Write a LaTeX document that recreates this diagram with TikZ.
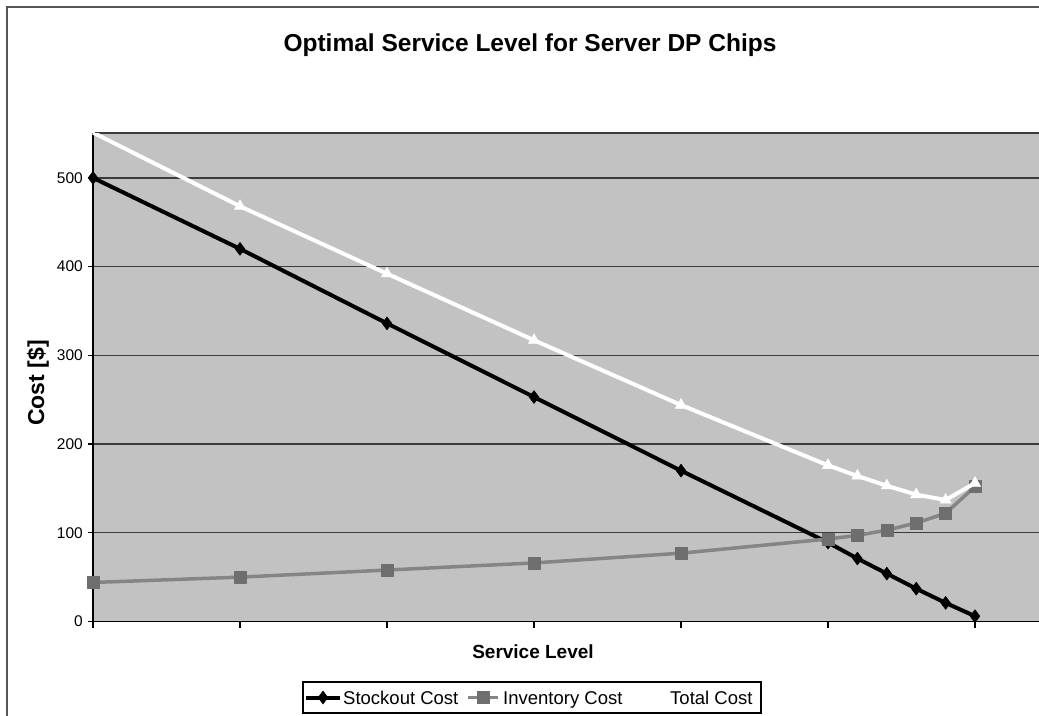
\documentclass[tikz,border=0pt]{standalone}
\usepackage{fontspec}
\setmainfont{Liberation Sans}
\usetikzlibrary{plotmarks}
\definecolor{plotbg}{HTML}{C2C2C2}
\definecolor{gridc}{HTML}{3C3C3C}
\definecolor{invline}{HTML}{858585}
\definecolor{invmark}{HTML}{6E6E6E}
\definecolor{framec}{HTML}{555555}
\tikzset{
  stockline/.style={line width=4pt, black, line join=round, mark=diamond*, mark size=6.5pt, mark options={solid, fill=black, draw=black, line width=0.5pt}},
  invseries/.style={line width=3.5pt, invline, line join=round, mark=square*, mark size=6pt, mark options={solid, fill=invmark, draw=invmark, line width=0.5pt}},
  totline/.style={line width=4pt, white, line join=round},
  totmarks/.style={mark=triangle*, mark size=6.5pt, mark options={fill=white, draw=white, line width=0.5pt}},
  ticklab/.style={anchor=east, inner sep=0pt, font=\fontsize{15.5}{18}\selectfont},
  legtext/.style={anchor=base west, inner sep=0pt, font=\fontsize{18.5}{22}\selectfont},
  gridline/.style={gridc, line width=1.3pt}
}
\begin{document}
\begin{tikzpicture}[x=1pt, y=-1pt]
\useasboundingbox (0,0) rectangle (1039,715);
\fill[white] (0,0) rectangle (1039,715);
% outer chart frame
\draw[framec, line width=1.5pt] (7,720) -- (7,7) -- (1045,7);
% title
\node[font=\bfseries\fontsize{24.5}{28}\selectfont, inner sep=0pt] (title) at (530,45) {Optimal Service Level for Server DP Chips};
% plot area
\fill[plotbg] (93,133) rectangle (1045,621);
\draw[gridc, line width=1.3pt] (95,133) -- (1045,133);
\begin{scope}[xshift=93pt, yshift=-621.5pt, x=147pt, y=0.8873pt]
  % horizontal gridlines and y ticks
  \foreach \v in {100,200,300,400,500} {
    \draw[gridline] (0,\v) -- (6.5,\v);
  }
  \foreach \v in {0,100,200,300,400,500} {
    \draw[black, line width=1.2pt] (-5pt,\v) -- (0,\v);
    \node[ticklab] (yl\v) at (-10pt,\v) {\v};
  }
  % axes
  \draw[black, line width=1.5pt] (0,550) -- (0,0) -- (6.5,0);
  \foreach \i in {0,...,6} {
    \draw[black, line width=1.2pt] (\i,0) -- ++(0,-6pt);
  }
  % stockout cost
  \draw[stockline] plot coordinates {(0,500) (1,420) (2,336) (3,253) (4,170) (5,89) (5.2,71) (5.4,54) (5.6,37) (5.8,21) (6,6)};
  % inventory cost
  \draw[invseries] plot coordinates {(0,44) (1,50) (2,58) (3,66) (4,77) (5,93) (5.2,97) (5.4,103) (5.6,111) (5.8,122) (6,152)};
  % total cost, clipped at the top of the plot area
  \begin{scope}
    \clip (-0.02,0) rectangle (6.5,550);
    \draw[totline] plot coordinates {(0,551) (1,468) (2,392) (3,317) (4,244) (5,176) (5.2,164) (5.4,153) (5.6,143) (5.8,137) (6,156)};
  \end{scope}
  \path[totmarks] plot coordinates {(1,468) (2,392) (3,317) (4,244) (5,176) (5.2,164) (5.4,153) (5.6,143) (5.8,137) (6,156)};
\end{scope}
% axis titles
\node[font=\bfseries\fontsize{23}{26}\selectfont, rotate=90, inner sep=0pt] (ytitle) at (38,383) {Cost [\$]};
\node[font=\bfseries\fontsize{19}{22}\selectfont, inner sep=0pt] (xtitle) at (533,652) {Service Level};
% legend
\draw[black, line width=1.2pt, fill=white] (303,682) rectangle (761,713);
\draw[stockline, mark=none] (306,697.5) -- (340,697.5);
\path[stockline] plot coordinates {(323,697.5)};
\node[legtext] (l1) at (343,704.5) {Stockout Cost};
\draw[invseries, mark=none] (468,697.5) -- (498,697.5);
\path[invseries] plot coordinates {(483,697.5)};
\node[legtext] (l2) at (503,704.5) {Inventory Cost};
\draw[totline] (636,697.5) -- (666,697.5);
\node[legtext] (l3) at (670,704.5) {Total Cost};
\end{tikzpicture}
\end{document}
